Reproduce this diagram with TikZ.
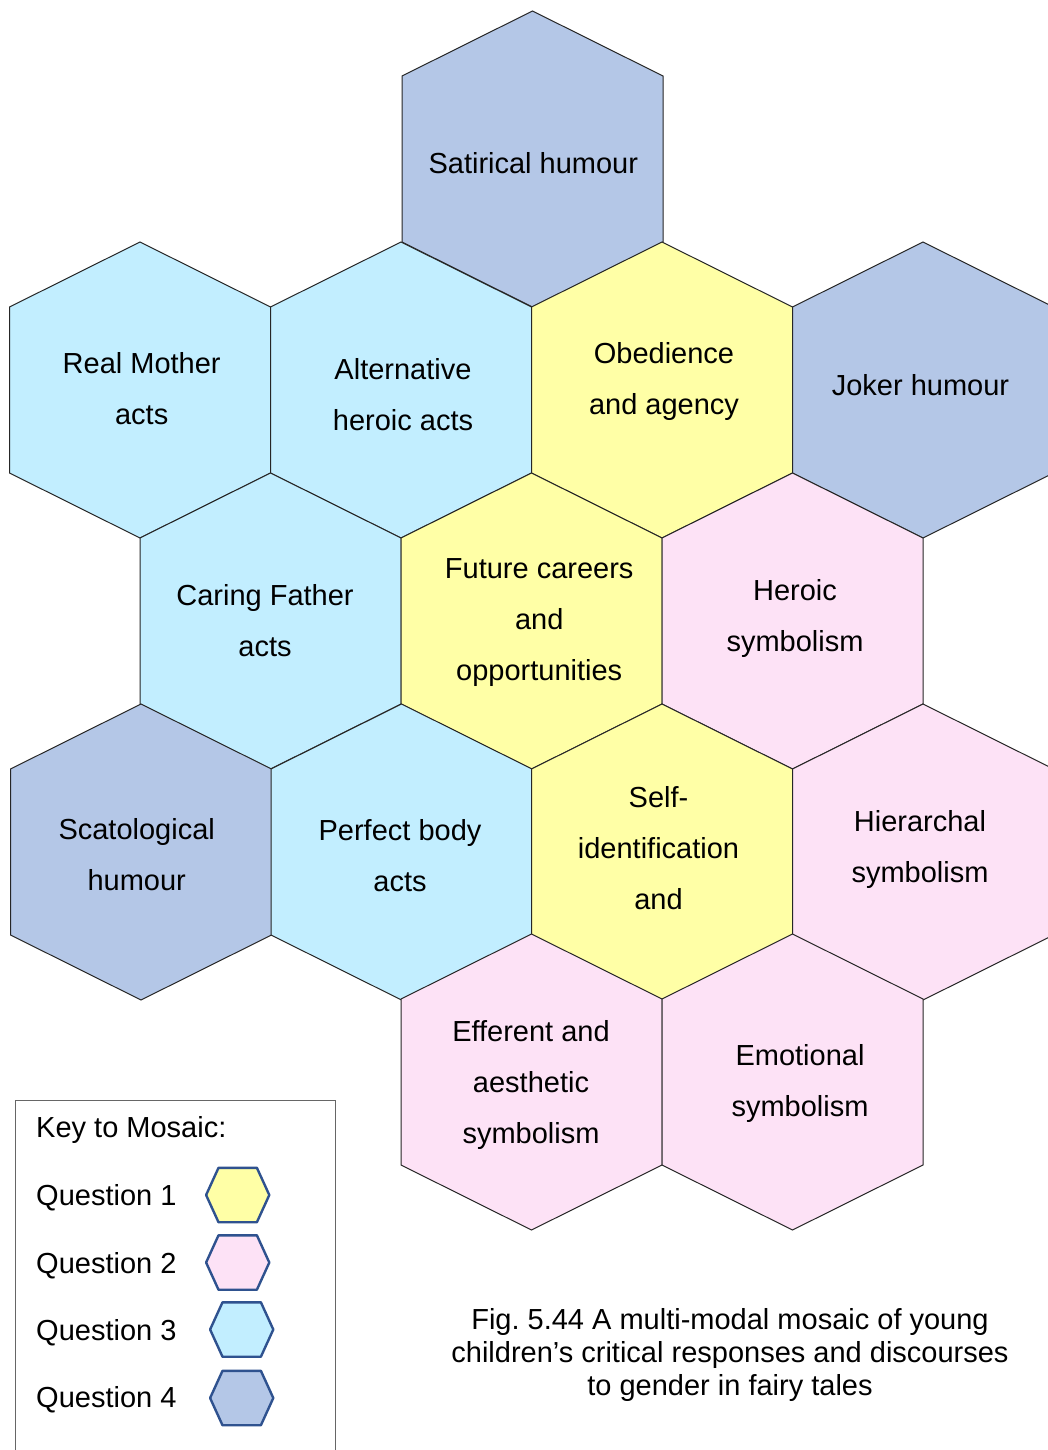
\documentclass[tikz,border=0pt]{standalone}
\usepackage{fontspec}
\setmainfont{Liberation Sans}
\frenchspacing
\definecolor{qone}{HTML}{FFFFA6}
\definecolor{qtwo}{HTML}{FDE2F6}
\definecolor{qthree}{HTML}{C2EEFF}
\definecolor{qfour}{HTML}{B4C7E7}
\definecolor{keyblue}{HTML}{2F528F}
\tikzset{
  hexcell/.pic={\path[pic actions] (0,-148) -- (130.5,-83) -- (130.5,83) -- (0,148) -- (-130.5,83) -- (-130.5,-83) -- cycle;},
  keyhex/.pic={\path[pic actions] (-31.6,0) -- (-19.2,-27.2) -- (19.2,-27.2) -- (31.6,0) -- (19.2,27.2) -- (-19.2,27.2) -- cycle;},
  cell/.style={draw=black!85, line width=1pt},
  keycell/.style={draw=keyblue, line width=2.4pt, line join=round},
  lbl/.style={align=center, inner sep=0pt, yshift=-1.5pt, font=\fontsize{29}{51}\selectfont},
  keytxt/.style={anchor=base west, inner sep=0pt, font=\fontsize{29}{35}\selectfont},
  captxt/.style={align=center, inner sep=0pt, font=\fontsize{29}{33}\selectfont},
}
\begin{document}
\begin{tikzpicture}[x=1pt,y=-1pt]
\clip (0,0) rectangle (1048,1450);
\fill[white] (0,0) rectangle (1048,1450);
% hexagon mosaic
\pic[cell, fill=qfour]  (hsat)  at (532.5,159) {hexcell};
\pic[cell, fill=qthree] (hreal) at (140,390) {hexcell};
\pic[cell, fill=qthree] (halt)  at (401,390) {hexcell};
\pic[cell, fill=qone]   (hobe)  at (662,390) {hexcell};
\pic[cell, fill=qfour]  (hjok)  at (923,390) {hexcell};
\pic[cell, fill=qthree] (hcar)  at (270.5,621) {hexcell};
\pic[cell, fill=qone]   (hfut)  at (531.5,621) {hexcell};
\pic[cell, fill=qtwo]   (hher)  at (792.5,621) {hexcell};
\pic[cell, fill=qfour]  (hsca)  at (141,852) {hexcell};
\pic[cell, fill=qthree] (hper)  at (401.5,852) {hexcell};
\pic[cell, fill=qone]   (hself) at (662,852) {hexcell};
\pic[cell, fill=qtwo]   (hhie)  at (923,852) {hexcell};
\pic[cell, fill=qtwo]   (heff)  at (531.5,1082) {hexcell};
\pic[cell, fill=qtwo]   (hemo)  at (792.5,1082) {hexcell};
% labels
\node[lbl] (tsat)  at (533.3,161.8) {\strut Satirical humour};
\node[lbl] (treal) at (141.7,387)   {\strut Real Mother\\\strut acts};
\node[lbl] (talt)  at (403,392.8)   {\strut Alternative\\\strut heroic acts};
\node[lbl] (tobe)  at (664,376.8)   {\strut Obedience\\\strut and agency};
\node[lbl] (tjok)  at (920.5,383.8) {\strut Joker humour};
\node[lbl] (tcar)  at (265,618.8)   {\strut Caring Father\\\strut acts};
\node[lbl] (tfut)  at (539.2,617.6) {\strut Future careers\\\strut and\\\strut opportunities};
\node[lbl] (ther)  at (795,614.3)   {\strut Heroic\\\strut symbolism};
\node[lbl] (tsca)  at (136.7,853.6) {\strut Scatological\\\strut humour};
\node[lbl] (tper)  at (400,853.8)   {\strut Perfect body\\\strut acts};
\node[lbl] (tself) at (658.5,846.8) {\strut Self-\\\strut identification\\\strut and};
\node[lbl] (thie)  at (920,845.6)   {\strut Hierarchal\\\strut symbolism};
\node[lbl] (teff)  at (531,1080.3)  {\strut Efferent and\\\strut aesthetic\\\strut symbolism};
\node[lbl] (temo)  at (800,1079)    {\strut Emotional\\\strut symbolism};
% key box
\coordinate (kbl) at (15.7,1451);
\coordinate (kbr) at (335.7,1451);
\draw[draw=black!60, line width=0.9pt] (kbl) |- (335.7,1100) -- (kbr);
\node[keytxt] (ktitle) at (36,1137.5) {Key to Mosaic:};
\node[keytxt] (kq1) at (36,1205.5)   {Question 1};
\node[keytxt] (kq2) at (36,1273.2) {Question 2};
\node[keytxt] (kq3) at (36,1340.5)   {Question 3};
\node[keytxt] (kq4) at (36,1407.5)   {Question 4};
\pic[keycell, fill=qone]   (kh1) at (237.7,1195) {keyhex};
\pic[keycell, fill=qtwo]   (kh2) at (237.7,1262.5) {keyhex};
\pic[keycell, fill=qthree] (kh3) at (241.7,1329.5) {keyhex};
\pic[keycell, fill=qfour]  (kh4) at (241.7,1398) {keyhex};
% caption
\node[captxt] (cap) at (730,1355.8) {\strut Fig. 5.44 A multi-modal mosaic of young\\\strut children’s critical responses and discourses\\\strut to gender in fairy tales};
\end{tikzpicture}
\end{document}
